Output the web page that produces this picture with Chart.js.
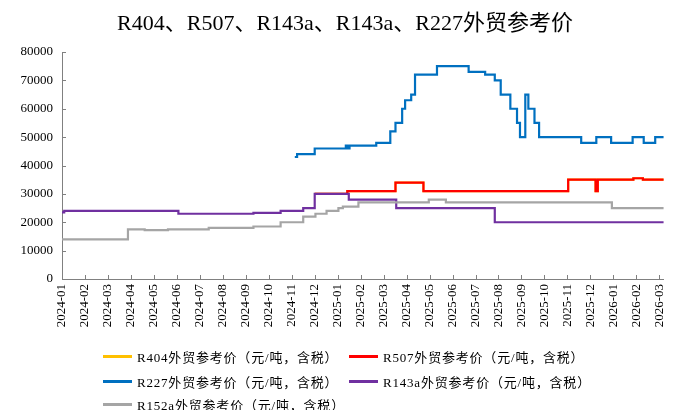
<!DOCTYPE html>
<html>
<head>
<meta charset="utf-8">
<script src="https://cdn.jsdelivr.net/npm/chart.js@4.4.1/dist/chart.umd.min.js"></script>
<style>
  body { margin: 0; background: #fff; }
  #wrap { position: relative; width: 680px; height: 410px; overflow: hidden; }
  #title { position: absolute; left: 345px; top: 20px; transform: translate(-50%, -50%); white-space: nowrap;
           font: 22px 'Liberation Serif', 'Noto Sans CJK SC', serif; color: #000; }
  .item { position: absolute; height: 16px; display: flex; align-items: center; letter-spacing: 0.8px;
          font: 13px 'Liberation Serif', 'Noto Sans CJK SC', serif; color: #000; white-space: nowrap; }
  .item .ln { display: inline-block; width: 29px; height: 3px; margin-right: 5px; }
</style>
</head>
<body>
<div id="wrap">
  <canvas id="c" width="680" height="410"></canvas>
  <div id="title">R404、R507、R143a、R143a、R227外贸参考价</div>
  <div id="legend"></div>
</div>
<script>
// 横轴刻度
const monthLabels = ['2024-01','2024-02','2024-03','2024-04','2024-05','2024-06','2024-07','2024-08','2024-09',
  '2024-10','2024-11','2024-12','2025-01','2025-02','2025-03','2025-04','2025-05','2025-06','2025-07','2025-08',
  '2025-09','2025-10','2025-11','2025-12','2026-01','2026-02','2026-03'];
const endDate = '2026-03-07';

// 各系列：调价日期 + 新价格（元/吨）
const r507Dates  = ['2024-12-01','2025-01-14','2025-03-17','2025-04-23','2025-11-02','2025-12-08','2025-12-11','2026-01-28','2026-02-09','2026-03-07'];
const r507Values = [30000, 31000, 34000, 31000, 35000, 31000, 35000, 35500, 35000, 35000];

// R404 与 R507 重合（图中被红线完全覆盖）
const r404Dates  = r507Dates;
const r404Values = r507Values;

const r227Dates  = ['2024-11-05','2024-11-08','2024-12-01','2025-01-12','2025-01-14','2025-01-17','2025-02-20','2025-03-10',
  '2025-03-17','2025-03-26','2025-03-30','2025-04-07','2025-04-12','2025-05-11','2025-06-22','2025-07-14','2025-07-27',
  '2025-08-04','2025-08-17','2025-08-26','2025-08-30','2025-09-06','2025-09-10','2025-09-18','2025-09-24','2025-11-19',
  '2025-12-09','2025-12-29','2026-01-27','2026-02-10','2026-02-24','2026-03-07'];
const r227Values = [43000, 44000, 46000, 47000, 46000, 47000, 48000, 52000, 55000, 60000, 63000, 65000, 72000, 75000, 73000,
  72000, 70000, 65000, 60000, 55000, 50000, 65000, 60000, 55000, 50000, 48000, 50000, 48000, 50000, 48000, 50000, 50000];

const r143aDates  = ['2024-01-01','2024-01-04','2024-06-03','2024-09-11','2024-10-17','2024-11-16','2024-12-01','2025-01-16','2025-03-18','2025-07-27','2026-03-07'];
const r143aValues = [23500, 24000, 23000, 23300, 24000, 25000, 30000, 28000, 25000, 20000, 20000];

const r152aDates  = ['2024-01-01','2024-03-28','2024-04-19','2024-05-20','2024-07-13','2024-09-11','2024-10-17','2024-11-16',
  '2024-12-02','2024-12-17','2025-01-02','2025-01-08','2025-01-29','2025-04-30','2025-05-23','2025-12-30','2026-03-07'];
const r152aValues = [14000, 17500, 17200, 17500, 18000, 18500, 20000, 22000, 23000, 24000, 25000, 25500, 27000, 28000, 27000, 25000, 25000];

const FONT = "'Liberation Serif', 'Noto Sans CJK SC', serif";

// 日期 -> 距 2024-01 的月数
function toMonth(s) {
    const [y, m, d] = s.split('-').map(Number);
    const dim = new Date(y, m, 0).getDate();
    return (y - 2024) * 12 + (m - 1) + (d - 1) / dim;
}
function pts(dates, values) {
    return dates.map((d, i) => ({x: toMonth(d), y: values[i]}));
}

const series = [
    {label: 'R404外贸参考价（元/吨，含税）',  color: '#FFC000', data: pts(r404Dates, r404Values), order: 5},
    {label: 'R507外贸参考价（元/吨，含税）',  color: '#FF0000', data: pts(r507Dates, r507Values), order: 4},
    {label: 'R227外贸参考价（元/吨，含税）',  color: '#0070C0', data: pts(r227Dates, r227Values), order: 3},
    {label: 'R143a外贸参考价（元/吨，含税）', color: '#7030A0', data: pts(r143aDates, r143aValues), order: 2},
    {label: 'R152a外贸参考价（元/吨，含税）', color: '#A5A5A5', data: pts(r152aDates, r152aValues), order: 1},
];

// 坐标轴内侧的小刻度
const innerTicks = {
    id: 'innerTicks',
    afterDraw(chart) {
        const {ctx, scales: {x, y}} = chart;
        ctx.save();
        ctx.strokeStyle = '#808080';
        ctx.lineWidth = 1;
        ctx.beginPath();
        for (let v = 0; v <= 80000; v += 10000) {
            const py = Math.round(y.getPixelForValue(v)) + 0.5;
            ctx.moveTo(x.left, py); ctx.lineTo(x.left + 4, py);
        }
        for (let i = 0; i < monthLabels.length; i++) {
            const px = Math.round(x.getPixelForValue(i)) + 0.5;
            ctx.moveTo(px, y.bottom); ctx.lineTo(px, y.bottom - 4);
        }
        ctx.stroke();
        ctx.restore();
    }
};

new Chart(document.getElementById('c'), {
    type: 'line',
    data: {
        datasets: series.map(s => ({
            label: s.label, data: s.data, order: s.order,
            borderColor: s.color, backgroundColor: s.color,
            borderWidth: 2.2, pointRadius: 0, stepped: 'before', fill: false
        }))
    },
    options: {
        responsive: false,
        animation: false,
        layout: {padding: {left: 0, right: 13, bottom: 65, top: 52}},
        plugins: {
            legend: {display: false},
            tooltip: {enabled: false},
            title: {display: false}
        },
        scales: {
            x: {
                type: 'linear', min: 0, max: toMonth(endDate),
                grid: {display: false, drawTicks: false, tickLength: 0},
                border: {color: '#808080', width: 1},
                ticks: {
                    stepSize: 1, autoSkip: false, includeBounds: false,
                    maxRotation: 90, minRotation: 90, padding: 5,
                    color: '#000', font: {family: FONT, size: 13},
                    callback: v => monthLabels[Math.round(v)]
                },
                afterFit: s => { s.height = 66; }
            },
            y: {
                min: 0, max: 80000,
                grid: {display: false, drawTicks: false, tickLength: 0},
                border: {color: '#808080', width: 1},
                ticks: {stepSize: 10000, padding: 9, color: '#000', font: {family: FONT, size: 13}, callback: v => v},
                afterFit: s => { s.width = 62; }
            }
        }
    },
    plugins: [innerTicks]
});

// 图例（两列）
const legendPos = [[103, 356], [349, 356], [103, 381], [349, 381], [103, 404]];
const legend = document.getElementById('legend');
series.forEach((s, i) => {
    const el = document.createElement('div');
    el.className = 'item';
    el.style.left = legendPos[i][0] + 'px';
    el.style.top = (legendPos[i][1] - 8) + 'px';
    el.innerHTML = '<span class="ln" style="background:' + s.color + '"></span>' + s.label;
    legend.appendChild(el);
});
</script>
</body>
</html>
